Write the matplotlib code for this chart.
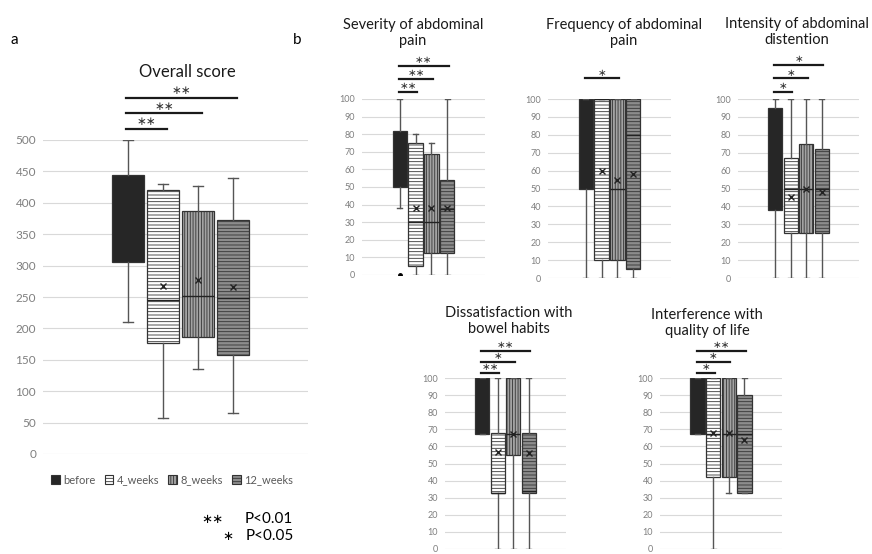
import numpy as np
import matplotlib
matplotlib.use("Agg")
import matplotlib.pyplot as plt
from matplotlib.patches import Patch

plt.rcParams["font.family"] = ["Lato", "DejaVu Sans"]
plt.rcParams["hatch.linewidth"] = 0.6

# groups (same order in every panel)
groups = ["before", "4_weeks", "8_weeks", "12_weeks"]

# each row: [whisker low, Q1, median, Q3, whisker high, mean]
overall = [[210, 305, 380, 445, 500, 375],
           [58, 176, 245, 421, 430, 267],
           [136, 187, 251, 387, 426, 277],
           [66, 158, 248, 372, 440, 266]]
severity = [[38, 50, 62.5, 82, 100, 62],
            [0, 5, 30, 75, 80, 38],
            [0, 12.5, 30, 69, 75, 38],
            [0, 12.5, 37.5, 54, 100, 38]]
severity_fliers = [[0], [], [], []]
frequency = [[0, 50, 75, 100, 100, 72],
             [0, 10, 100, 100, 100, 60],
             [0, 10, 50, 100, 100, 55],
             [0, 5, 80, 100, 100, 58]]
intensity = [[0, 38, 62.5, 95, 100, 65],
             [0, 25, 50, 67, 100, 45],
             [0, 25, 50, 75, 100, 50],
             [0, 25, 50, 72, 100, 48]]
dissatisfaction = [[67, 67, 100, 100, 100, 85],
                   [0, 33, 33, 68, 100, 57],
                   [0, 55, 67, 100, 100, 67],
                   [0, 33, 34, 68, 100, 56]]
interference = [[67, 67, 100, 100, 100, 85],
                [0, 42, 67, 100, 100, 68],
                [33, 42, 67, 100, 100, 68],
                [33, 33, 67, 90, 100, 64]]

# significance vs "before": [vs 4_weeks, vs 8_weeks, vs 12_weeks]
overall_sig = ["∗∗", "∗∗", "∗∗"]
severity_sig = ["∗∗", "∗∗", "∗∗"]
frequency_sig = [None, "∗", None]
intensity_sig = ["∗", "∗", "∗"]
dissatisfaction_sig = ["∗∗", "∗", "∗∗"]
interference_sig = ["∗", "∗", "∗∗"]

fills = ["#262626", "white", "#a3a3a3", "#8c8c8c"]
hatches = [None, "-----", "||||||", "-----"]

W, H = 872, 554
fig = plt.figure(figsize=(W / 100, H / 100), dpi=100)


def px_axes(l, t, r, b):
    return fig.add_axes([l / W, 1 - b / H, (r - l) / W, (b - t) / H])


def draw_panel(ax, rows, sig, ymax, ystep, fs, fliers=None, base=0.035, step=0.06,
               xlim=(-1.4, 6.4)):
    stats = []
    for i, r in enumerate(rows):
        stats.append(dict(whislo=r[0], q1=r[1], med=r[2], q3=r[3], whishi=r[4],
                          mean=r[5], fliers=(fliers[i] if fliers else [])))
    pos = np.arange(1, len(rows) + 1)
    bp = ax.bxp(stats, positions=pos, widths=0.93, patch_artist=True, showmeans=True,
                capwidths=0.3,
                boxprops=dict(edgecolor="#333333", linewidth=0.9),
                medianprops=dict(color="#222222", linewidth=1),
                meanprops=dict(marker="x", markeredgecolor="#222222", markersize=4,
                               markeredgewidth=1),
                whiskerprops=dict(color="#555555", linewidth=1),
                capprops=dict(color="#555555", linewidth=1),
                flierprops=dict(marker="o", markersize=2.5, markerfacecolor="black",
                                markeredgecolor="black"))
    for box, fc, h in zip(bp["boxes"], fills, hatches):
        box.set_facecolor(fc)
        if h:
            box.set_hatch(h)
    # the solid "before" box hides its median and mean
    bp["medians"][0].set_visible(False)
    bp["means"][0].set_visible(False)
    ax.set_xlim(*xlim)
    ax.set_ylim(0, ymax)
    ax.set_yticks(np.arange(0, ymax + 1, ystep))
    ax.set_xticks([])
    ax.tick_params(axis="y", length=0, labelsize=fs, labelcolor="#7f7f7f", pad=5)
    for s in ax.spines.values():
        s.set_visible(False)
    ax.grid(axis="y", color="#d9d9d9", linewidth=0.8)
    ax.set_axisbelow(True)
    # significance bars
    for k, lab in enumerate(sig):
        if lab is None:
            continue
        y = ymax * (1 + base + step * k)
        x0, x1 = pos[0] - 0.05, pos[k + 1] + 0.1
        ax.plot([x0, x1], [y, y], color="#1a1a1a", linewidth=1.6, clip_on=False)
        ax.text((x0 + x1) / 2, y + ymax * 0.005, lab, ha="center", va="bottom",
                fontsize=7.5 if ymax == 100 else 8.5, color="#333333", clip_on=False)


ax_a = px_axes(43, 140, 308, 454)
draw_panel(ax_a, overall, overall_sig, 500, 50, 8.5, base=0.035, step=0.05,
           xlim=(-1.43, 6.14))

ax_s = px_axes(362, 99, 485, 275)
draw_panel(ax_s, severity, severity_sig, 100, 10, 6.5, fliers=severity_fliers,
           base=0.04, step=0.075)
ax_f = px_axes(548, 99, 671, 278)
draw_panel(ax_f, frequency, frequency_sig, 100, 10, 6.5, base=0.04, step=0.075)
ax_i = px_axes(738, 99, 859, 278)
draw_panel(ax_i, intensity, intensity_sig, 100, 10, 6.5, base=0.04, step=0.075)
ax_d = px_axes(445, 378, 566, 549)
draw_panel(ax_d, dissatisfaction, dissatisfaction_sig, 100, 10, 6.5, base=0.03, step=0.065)
ax_q = px_axes(660, 378, 782, 549)
draw_panel(ax_q, interference, interference_sig, 100, 10, 6.5, base=0.03, step=0.065)

# titles
def ftext(x, y, s, **kw):
    fig.text(x / W, 1 - y / H, s, **kw)

tkw = dict(ha="center", va="center", fontsize=10.5, color="#1a1a1a", linespacing=1.25)
ftext(187, 72, "Overall score", ha="center", va="center", fontsize=12, color="#1a1a1a")
ftext(413, 33, "Severity of abdominal\npain", **tkw)
ftext(624, 33, "Frequency of abdominal\npain", **tkw)
ftext(797, 32, "Intensity of abdominal\ndistention", **tkw)
ftext(509, 321, "Dissatisfaction with\nbowel habits", **tkw)
ftext(707, 323, "Interference with\nquality of life", **tkw)

ftext(10, 40, "a", ha="left", va="center", fontsize=11)
ftext(293, 40, "b", ha="left", va="center", fontsize=11)

# legend
handles = [Patch(facecolor=fc, edgecolor="#333333", hatch=h, linewidth=0.8)
           for fc, h in zip(fills, hatches)]
fig.legend(handles, groups, loc="center", bbox_to_anchor=(172 / W, 1 - 480 / H), ncol=4,
           frameon=False, fontsize=8, handlelength=0.8, handleheight=0.8,
           handletextpad=0.3, columnspacing=0.8, labelcolor="#595959")

ftext(224, 519, "∗∗", ha="right", va="center", fontsize=9.5)
ftext(245, 519, "P<0.01", ha="left", va="center", fontsize=11)
ftext(233, 536, "∗", ha="right", va="center", fontsize=9.5)
ftext(246, 536, "P<0.05", ha="left", va="center", fontsize=11)

fig.savefig("out.png", dpi=100)
